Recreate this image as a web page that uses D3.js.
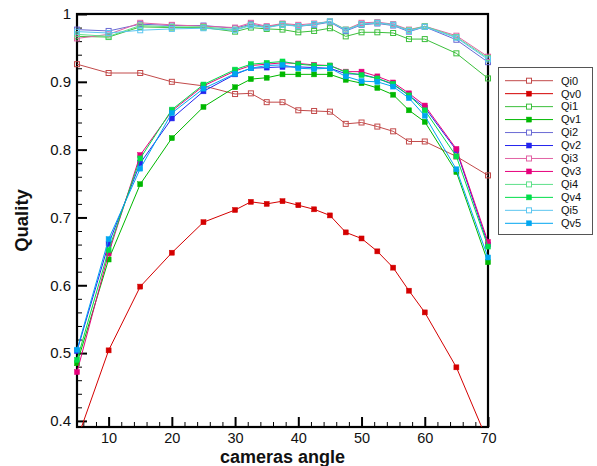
<!DOCTYPE html>
<html>
<head>
<meta charset="utf-8">
<script src="https://cdn.jsdelivr.net/npm/d3@7/dist/d3.min.js"></script>
<style>
  html, body { margin: 0; padding: 0; background: #fff; }
  svg { display: block; font-family: "Liberation Sans", Arial, Helvetica, sans-serif; }
</style>
</head>
<body>
<svg id="chart" width="597" height="466"></svg>
<script>
// ---- data ----
const angles = [5, 10, 15, 20, 25, 30, 32.5, 35, 37.5, 40, 42.5, 45, 47.5, 50, 52.5, 55, 57.5, 60, 65, 70];

const Qi0 = [0.926, 0.913, 0.913, 0.900, 0.894, 0.882, 0.883, 0.870, 0.870, 0.858, 0.857, 0.856, 0.838, 0.840, 0.834, 0.827, 0.812, 0.812, 0.790, 0.762];
const Qv0 = [0.372, 0.504, 0.598, 0.648, 0.693, 0.711, 0.723, 0.720, 0.724, 0.718, 0.712, 0.703, 0.678, 0.669, 0.650, 0.626, 0.592, 0.560, 0.479, 0.369];
const Qi1 = [0.967, 0.966, 0.981, 0.980, 0.980, 0.974, 0.980, 0.978, 0.977, 0.973, 0.975, 0.979, 0.967, 0.973, 0.973, 0.972, 0.963, 0.963, 0.942, 0.905];
const Qv1 = [0.485, 0.638, 0.749, 0.817, 0.863, 0.892, 0.904, 0.906, 0.911, 0.911, 0.911, 0.911, 0.903, 0.898, 0.891, 0.881, 0.858, 0.841, 0.767, 0.634];
const Qi2 = [0.977, 0.975, 0.985, 0.983, 0.983, 0.979, 0.985, 0.981, 0.985, 0.982, 0.984, 0.988, 0.975, 0.984, 0.986, 0.983, 0.974, 0.981, 0.962, 0.929];
const Qv2 = [0.503, 0.661, 0.780, 0.846, 0.886, 0.911, 0.920, 0.921, 0.922, 0.922, 0.921, 0.920, 0.912, 0.911, 0.905, 0.896, 0.880, 0.862, 0.799, 0.660];
const Qi3 = [0.964, 0.970, 0.987, 0.984, 0.982, 0.980, 0.987, 0.982, 0.986, 0.984, 0.986, 0.989, 0.977, 0.987, 0.988, 0.985, 0.977, 0.982, 0.968, 0.937];
const Qv3 = [0.472, 0.647, 0.792, 0.857, 0.894, 0.916, 0.924, 0.926, 0.928, 0.927, 0.925, 0.924, 0.915, 0.915, 0.908, 0.899, 0.883, 0.865, 0.801, 0.664];
const Qi4 = [0.970, 0.967, 0.983, 0.981, 0.981, 0.977, 0.984, 0.980, 0.985, 0.982, 0.985, 0.989, 0.977, 0.985, 0.987, 0.984, 0.976, 0.982, 0.966, 0.935];
const Qv4 = [0.490, 0.652, 0.787, 0.859, 0.896, 0.918, 0.926, 0.928, 0.930, 0.926, 0.924, 0.924, 0.914, 0.910, 0.905, 0.897, 0.880, 0.858, 0.790, 0.657];
const Qi5 = [0.974, 0.972, 0.976, 0.978, 0.979, 0.976, 0.983, 0.980, 0.984, 0.982, 0.985, 0.989, 0.976, 0.985, 0.987, 0.984, 0.975, 0.981, 0.965, 0.933];
const Qv5 = [0.505, 0.668, 0.772, 0.854, 0.890, 0.912, 0.920, 0.924, 0.925, 0.920, 0.919, 0.920, 0.908, 0.901, 0.900, 0.893, 0.876, 0.850, 0.771, 0.641];

const seriesNames = ["Qi0", "Qv0", "Qi1", "Qv1", "Qi2", "Qv2", "Qi3", "Qv3", "Qi4", "Qv4", "Qi5", "Qv5"];
const seriesValues = [Qi0, Qv0, Qi1, Qv1, Qi2, Qv2, Qi3, Qv3, Qi4, Qv4, Qi5, Qv5];
const seriesColors = ["#c24a4a", "#d40000", "#3cbf3c", "#00b800", "#6a6ad4", "#2424ee", "#e262a4", "#e6007c", "#5ee08a", "#00de4a", "#5cc6f0", "#00a6f0"];
const seriesFilled = [false, true, false, true, false, true, false, true, false, true, false, true];

const yMajorTicks = [0.4, 0.5, 0.6, 0.7, 0.8, 0.9, 1];
const xMajorTicks = [10, 20, 30, 40, 50, 60, 70];
const xTitle = "cameras angle";
const yTitle = "Quality";

// ---- layout ----
const svg = d3.select("#chart");
const L = 77, R = 488, T = 14, B = 427;

const x = d3.scaleLinear().domain([5, 70]).range([L, R]);
const y = d3.scaleLinear().domain([0.391, 1]).range([B, T]);

const yMinor = d3.range(0.42, 1.0, 0.02).map(v => +v.toFixed(2)).filter(v => !yMajorTicks.some(m => Math.abs(m - v) < 1e-6));
const xMinor = d3.range(6, 70, 2).filter(v => v % 10 !== 0);

// minor ticks (inward)
const gxMinor = svg.append("g").attr("transform", `translate(0,${B})`)
  .call(d3.axisBottom(x).tickValues(xMinor).tickSize(-5).tickFormat(""));
gxMinor.select(".domain").remove();
gxMinor.selectAll("line").attr("stroke", "#000").attr("stroke-width", 1);

const gyMinor = svg.append("g").attr("transform", `translate(${L},0)`)
  .call(d3.axisLeft(y).tickValues(yMinor).tickSize(-5).tickFormat(""));
gyMinor.select(".domain").remove();
gyMinor.selectAll("line").attr("stroke", "#000").attr("stroke-width", 1);

// major ticks
const gx = svg.append("g").attr("transform", `translate(0,${B})`)
  .call(d3.axisBottom(x).tickValues(xMajorTicks).tickSize(-10).tickPadding(6).tickFormat(d3.format("d")));
gx.select(".domain").remove();
gx.selectAll("line").attr("stroke", "#000").attr("stroke-width", 2);
gx.selectAll("text").attr("font-size", 14.5).attr("fill", "#111")
  .attr("font-family", "'Liberation Sans', Arial, sans-serif");

const gy = svg.append("g").attr("transform", `translate(${L},0)`)
  .call(d3.axisLeft(y).tickValues(yMajorTicks).tickSize(-10).tickPadding(6).tickFormat(d => d === 1 ? "1" : d3.format(".1f")(d)));
gy.select(".domain").remove();
gy.selectAll("line").attr("stroke", "#000").attr("stroke-width", 2);
gy.selectAll("text").attr("font-size", 15).attr("fill", "#111")
  .attr("font-family", "'Liberation Sans', Arial, sans-serif");

// frame
svg.append("rect").attr("x", L).attr("y", T).attr("width", R - L).attr("height", B - T)
  .attr("fill", "none").attr("stroke", "#000").attr("stroke-width", 2.2);

// clip
svg.append("clipPath").attr("id", "clip").append("rect")
  .attr("x", 0).attr("y", T - 10).attr("width", 597).attr("height", B - T + 10);

const plot = svg.append("g").attr("clip-path", "url(#clip)");
const line = d3.line().x((d, i) => x(angles[i])).y(d => y(d));

const ms = 5;
seriesValues.forEach((vals, si) => {
  const c = seriesColors[si];
  const g = plot.append("g");
  g.append("path").datum(vals).attr("d", line)
    .attr("fill", "none").attr("stroke", c).attr("stroke-width", 1);
  g.selectAll("rect").data(vals).join("rect")
    .attr("x", (d, i) => x(angles[i]) - ms / 2)
    .attr("y", d => y(d) - ms / 2)
    .attr("width", ms).attr("height", ms)
    .attr("fill", seriesFilled[si] ? c : "none")
    .attr("stroke", c).attr("stroke-width", seriesFilled[si] ? 0.5 : 1);
});

// titles
svg.append("text").attr("x", (L + R) / 2).attr("y", 462.5)
  .attr("text-anchor", "middle").attr("font-weight", "bold").attr("font-size", 18)
  .attr("fill", "#111").text(xTitle);
svg.append("text").attr("transform", `translate(28,${(T + B) / 2}) rotate(-90)`)
  .attr("text-anchor", "middle").attr("font-weight", "bold").attr("font-size", 18.5)
  .attr("fill", "#111").text(yTitle);

// legend
const lg = svg.append("g");
lg.append("rect").attr("x", 498.5).attr("y", 67.5).attr("width", 94).attr("height", 167)
  .attr("fill", "#fff").attr("stroke", "#555").attr("stroke-width", 1);
const ly = d3.scalePoint().domain(seriesNames).range([80.7, 223.3]);
seriesNames.forEach((name, si) => {
  const c = seriesColors[si];
  const yy = ly(name);
  lg.append("line").attr("x1", 505).attr("x2", 553).attr("y1", yy).attr("y2", yy)
    .attr("stroke", c).attr("stroke-width", 1);
  lg.append("rect").attr("x", 529 - ms / 2).attr("y", yy - ms / 2).attr("width", ms).attr("height", ms)
    .attr("fill", seriesFilled[si] ? c : "#fff").attr("stroke", c).attr("stroke-width", seriesFilled[si] ? 0.5 : 1);
  lg.append("text").attr("x", 561).attr("y", yy).attr("dy", "0.35em")
    .attr("font-size", 11).attr("fill", "#111").text(name);
});
</script>
</body>
</html>
